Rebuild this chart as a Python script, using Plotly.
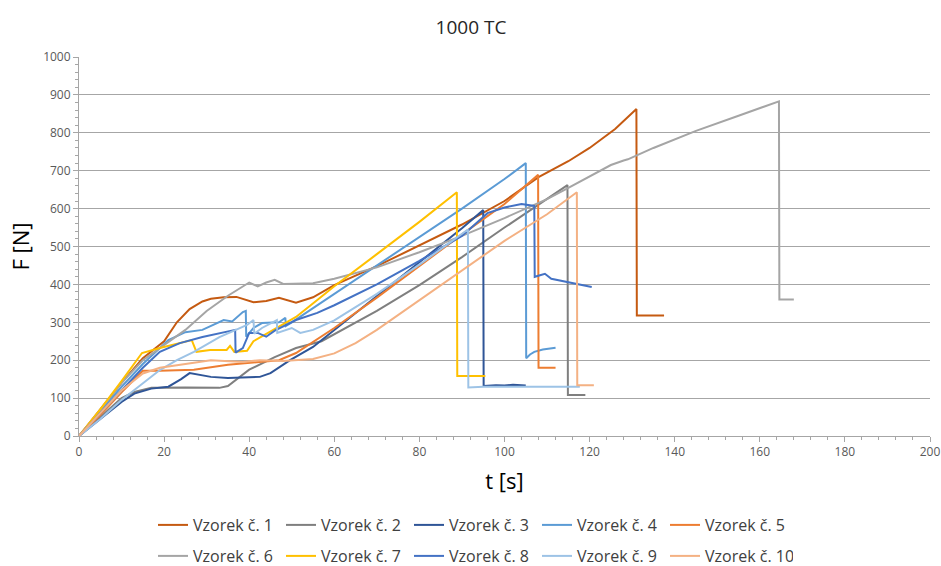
import plotly.graph_objects as go

# ---- data ----
names = ["Vzorek č. 1", "Vzorek č. 2", "Vzorek č. 3", "Vzorek č. 4", "Vzorek č. 5",
         "Vzorek č. 6", "Vzorek č. 7", "Vzorek č. 8", "Vzorek č. 9", "Vzorek č. 10"]

t1 = [0, 5, 10, 15, 20, 23, 26, 29, 31, 34, 37, 41, 44, 47, 51, 55, 60, 70, 80, 90, 100, 108, 115, 120, 126, 131, 131.1, 137.5]
f1 = [0, 70, 140, 205, 250, 300, 335, 355, 362, 366, 367, 353, 356, 365, 352, 366, 398, 448, 502, 558, 620, 683, 725, 760, 810, 863, 318, 318]

t2 = [0, 5, 10, 13, 17, 25, 33, 35, 37, 40, 46, 51, 57, 60, 70, 80, 90, 100, 110, 114.8, 114.9, 119]
f2 = [0, 50, 100, 116, 127, 128, 127, 132, 150, 175, 208, 232, 250, 268, 330, 398, 472, 550, 625, 662, 108, 108]

t3 = [0, 5, 10, 13, 17, 21, 24, 26, 29, 31, 35, 42.5, 45, 49.6, 55, 60, 70, 80, 90, 95, 95.1, 98, 100, 102, 105]
f3 = [0, 45, 90, 112, 125, 130, 150, 166, 160, 156, 153, 156, 166, 200, 235, 280, 370, 458, 548, 596, 132, 134, 133, 135, 133]

t4 = [0, 5, 10, 15, 21, 25, 29, 34, 36, 38.5, 39.2, 39.3, 41, 43, 47, 48.5, 48.6, 50, 60, 70, 80, 90, 100, 105, 105.1, 106, 107, 109, 112]
f4 = [0, 65, 130, 190, 253, 274, 280, 306, 302, 327, 330, 262, 285, 298, 300, 312, 290, 300, 375, 450, 525, 600, 678, 720, 205, 215, 222, 228, 233]

t5 = [0, 5, 10, 15, 19, 27, 35, 40, 47, 51, 56.6, 60, 70, 80, 90, 100, 107.9, 108, 112]
f5 = [0, 55, 115, 172, 172, 175, 188, 193, 200, 219, 261, 285, 365, 448, 532, 612, 689, 180, 180]

t6 = [0, 5, 10, 15, 20, 25, 30, 35, 40, 42, 44, 46, 48, 50, 55, 60, 70, 80, 90, 100, 110, 115, 120, 125, 128, 129, 135, 145, 155, 164.5, 164.6, 168]
f6 = [0, 70, 140, 200, 240, 280, 330, 370, 405, 395, 405, 412, 401, 402, 403, 415, 445, 485, 528, 575, 625, 655, 685, 715, 727, 730, 760, 805, 845, 883, 360, 360]

t7 = [0, 5, 10, 14.8, 19, 23.7, 26.5, 27.6, 30.8, 34.7, 35.5, 36.5, 39.5, 41, 51, 56, 60, 70, 80, 88.8, 88.9, 95.5]
f7 = [0, 70, 145, 219, 232, 245, 253, 222, 227, 227, 238, 222, 225, 250, 314, 359, 395, 480, 565, 643, 158, 158]

t8 = [0, 5, 10, 15, 19, 23.7, 29, 34.7, 36.7, 36.8, 38.5, 40, 42, 44, 46, 51, 56, 60, 70, 80, 90, 96, 100, 104, 107, 107.1, 109.5, 111, 115, 120.5]
f8 = [0, 60, 120, 180, 222, 245, 261, 274, 280, 220, 232, 272, 272, 262, 278, 306, 325, 345, 400, 462, 528, 588, 603, 612, 607, 420, 428, 415, 405, 393]

t9 = [0, 5, 10, 15, 19, 23, 27, 33, 37, 39.5, 41, 41.2, 43, 45.5, 46.5, 46.6, 48, 50, 52, 55, 60, 70, 80, 91.4, 91.5, 95, 100, 110, 117.7]
f9 = [0, 45, 95, 140, 174, 200, 222, 261, 280, 293, 306, 270, 285, 300, 306, 272, 278, 285, 272, 280, 305, 375, 452, 545, 128, 130, 130, 130, 130]

t10 = [0, 5, 10, 15, 19, 25, 31, 38.5, 42.5, 48, 55, 60, 65, 70, 80, 90, 100, 110, 117, 117.1, 121]
f10 = [0, 60, 120, 165, 180, 190, 200, 195, 200, 198, 203, 218, 245, 280, 358, 438, 515, 585, 643, 134, 134]

colors = ["#C55A11", "#7F7F7F", "#2F5597", "#5B9BD5", "#ED7D31",
          "#A5A5A5", "#FFC000", "#4472C4", "#9DC3E6", "#F4B183"]

series_t = [t1, t2, t3, t4, t5, t6, t7, t8, t9, t10]
series_f = [f1, f2, f3, f4, f5, f6, f7, f8, f9, f10]

fig = go.Figure()
for i, (name, tt, ff, c) in enumerate(zip(names, series_t, series_f, colors)):
    fig.add_trace(go.Scatter(
        x=tt, y=ff, mode="lines", name=name,
        line=dict(color=c, width=2),
        legend="legend" if i < 5 else "legend2",
    ))

W, H = 941, 566

axis_col = "#A6A6A6"
FONT = "Open Sans, sans-serif"
tick_font = dict(family=FONT, size=12, color="#595959")
leg_font = dict(family=FONT, size=16, color="#404040")

fig.update_layout(
    width=W, height=H,
    margin=dict(l=79, r=11, t=57, b=130, autoexpand=False),
    paper_bgcolor="white", plot_bgcolor="white",
    font=dict(family=FONT),
    title=dict(text="1000 TC", x=471 / W, xref="container", xanchor="center",
               y=1 - 27 / H, yref="container", yanchor="middle",
               font=dict(family=FONT, size=19, color="#262626")),
    xaxis=dict(range=[0, 200], tick0=0, dtick=20, showgrid=False, zeroline=False,
               showline=True, linecolor=axis_col, linewidth=1, automargin=False,
               ticks="outside", ticklen=5, tickcolor=axis_col,
               minor=dict(dtick=4, ticks="outside", ticklen=3, tickcolor=axis_col, showgrid=False),
               tickfont=tick_font, ticklabeloverflow="allow",
               title=dict(text="t [s]", font=dict(family=FONT, size=22, color="#000000"),
                          standoff=14)),
    yaxis=dict(range=[0, 1000], tick0=0, dtick=100, showgrid=True, gridcolor=axis_col, gridwidth=1,
               zeroline=False, showline=True, linecolor=axis_col, linewidth=1, automargin=False,
               ticks="outside", ticklen=5, tickcolor=axis_col,
               minor=dict(dtick=20, ticks="outside", ticklen=3, tickcolor=axis_col, showgrid=False),
               tickfont=tick_font, ticklabeloverflow="allow",
               title=dict(text="F [N]", font=dict(family=FONT, size=22, color="#000000"),
                          standoff=7)),
    legend=dict(orientation="h", xref="container", yref="container",
                x=153 / W, xanchor="left", y=1 - 525 / H, yanchor="middle",
                font=leg_font, entrywidth=83, entrywidthmode="pixels",
                bgcolor="rgba(0,0,0,0)", tracegroupgap=0),
    legend2=dict(orientation="h", xref="container", yref="container",
                 x=153 / W, xanchor="left", y=1 - 556 / H, yanchor="middle",
                 font=leg_font, entrywidth=83, entrywidthmode="pixels",
                 bgcolor="rgba(0,0,0,0)", tracegroupgap=0),
    showlegend=True,
)

# remove the browser's default 8px body margin so the figure fills the window exactly
fig.write_html("out.html",
               config={"displayModeBar": False},
               post_script="document.body.style.margin='0';document.body.style.overflow='hidden';")
